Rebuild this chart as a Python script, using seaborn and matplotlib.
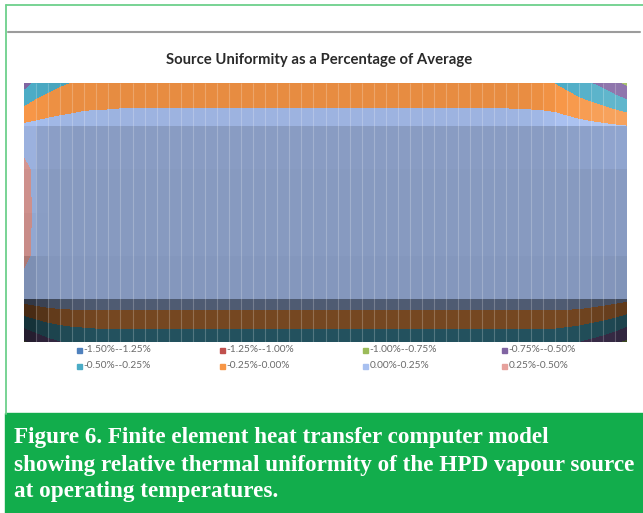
import numpy as np
import pandas as pd
import matplotlib
matplotlib.use("Agg")
import matplotlib.pyplot as plt
from matplotlib.colors import ListedColormap
from matplotlib.patches import Rectangle
from matplotlib.lines import Line2D
import seaborn as sns

# Contour band edges (percent of average) and legend entries
levels = [-1.50, -1.25, -1.00, -0.75, -0.50, -0.25, 0.00, 0.25, 0.50]
band_labels = ["-1.50%--1.25%", "-1.25%--1.00%", "-1.00%--0.75%", "-0.75%--0.50%",
               "-0.50%--0.25%", "-0.25%-0.00%", "0.00%-0.25%", "0.25%-0.50%"]
band_colors = ["#4F81BD", "#C0504D", "#9BBB59", "#8064A2",
               "#4BACC6", "#F79646", "#A8C0F0", "#E6A19C"]

# Surface node values (% of average), top edge to bottom edge, left to right
row_0 = ([-0.62, -0.45, -0.36, -0.29, -0.25, -0.23, -0.21, -0.20] + [-0.18] * 33
         + [-0.19, -0.20, -0.22, -0.26, -0.33, -0.42, -0.50, -0.58, -0.70, -0.82])
row_1 = [0.04, 0.06, 0.08, 0.09, 0.10] + [0.12] * 40 + [0.10, 0.08, 0.06, 0.04, 0.02, 0.00]
row_2 = [0.32, 0.18, 0.15] + [0.15] * 45 + [0.14, 0.13, 0.12]
row_3 = [0.35, 0.19, 0.16] + [0.16] * 45 + [0.15, 0.14, 0.13]
row_4 = [0.31, 0.19, 0.17] + [0.17] * 45 + [0.16, 0.15, 0.13]
row_5 = [0.09, 0.12, 0.14, 0.15] + [0.15] * 43 + [0.13, 0.11, 0.08, 0.05]
row_6 = ([-0.80, -0.68, -0.58, -0.52, -0.48, -0.46] + [-0.44] * 39
         + [-0.47, -0.51, -0.56, -0.62, -0.70, -0.82])

Z = np.array([row_0, row_1, row_2, row_3, row_4, row_5, row_6])
n_rows, n_nodes = Z.shape

sns.set_theme(style="white")
plt.rcParams["font.family"] = ["Lato", "DejaVu Sans"]

W, H = 643, 513
fig = plt.figure(figsize=(W / 100, H / 100), dpi=100)
fig.patch.set_facecolor("white")


def fx(x):
    return x / W


def fy(y):
    return 1 - y / H


ax = fig.add_axes([fx(24), fy(342), (627 - 24) / W, (342 - 83) / H])

# Filled contour bands over the node grid
ax.contourf(np.arange(n_nodes), np.arange(n_rows), Z, levels=levels,
            colors=band_colors, zorder=1)

# Facet lighting from the surface slope (lit from the top edge and the left)
dz_row = np.diff(Z, axis=0)
dz_row = 0.5 * (dz_row[:, :-1] + dz_row[:, 1:])
dz_col = np.diff(Z, axis=1)
dz_col = 0.5 * (dz_col[:-1, :] + dz_col[1:, :])
light = np.where(dz_row > 0, 0.80 + 0.45 * dz_row, 0.80 + 0.55 * dz_row) - 0.6 * dz_col
light = np.clip(light, 0.2, 1.12)

t = np.linspace(0.2, 1.2, 256)
rgba = np.zeros((256, 4))
dark = t < 1
rgba[dark, 3] = 1 - t[dark]
rgba[~dark, :3] = 1
rgba[~dark, 3] = t[~dark] - 1
shade_cmap = ListedColormap(rgba)

sns.heatmap(pd.DataFrame(light), ax=ax, cmap=shade_cmap, vmin=0.2, vmax=1.2,
            cbar=False, xticklabels=False, yticklabels=False, zorder=2)

# Facet seams
ax.vlines(np.arange(1, n_nodes - 1), 0, n_rows - 1, colors="white",
          alpha=0.22, linewidth=0.8, zorder=3)
ax.set_xlabel("")
ax.set_ylabel("")

# Title
fig.text(fx(319), fy(60), "Source Uniformity as a Percentage of Average",
         ha="center", va="center", fontsize=10.7, fontweight="bold", color="#2a2a2a")

# Legend
col_x = [77, 220, 363, 502]
row_y = [350, 366]
for k, (lab, col) in enumerate(zip(band_labels, band_colors)):
    x0 = col_x[k % 4]
    yc = row_y[k // 4]
    fig.add_artist(Rectangle((fx(x0), fy(yc + 2.5)), 5 / W, 5 / H,
                             transform=fig.transFigure, color=col))
    fig.text(fx(x0 + 6.5), fy(yc), lab, ha="left", va="center",
             fontsize=7.3, color="#6a6a6a")

# Page frame and chart edge
fig.add_artist(Line2D([fx(6), fx(6)], [fy(5), fy(414)], color="#6dd08b", lw=1.3))
fig.add_artist(Line2D([fx(6), fx(643)], [fy(5), fy(5)], color="#6dd08b", lw=1.3))
fig.add_artist(Line2D([fx(8), fx(640)], [fy(32), fy(32)], color="#9c9c9c", lw=1.5))

# Caption band
fig.add_artist(Rectangle((fx(5), 0), (W - 5) / W, (H - 413) / H,
                         transform=fig.transFigure, color="#12ad4c"))
caption = ["Figure 6. Finite element heat transfer computer model",
           "showing relative thermal uniformity of the HPD vapour source",
           "at operating temperatures."]
for line, yc in zip(caption, [437, 465, 492]):
    fig.text(fx(14), fy(yc), line, ha="left", va="center", color="white",
             fontsize=16.7, fontweight="bold", family=["Liberation Serif"])

fig.savefig("out.png", dpi=100)
